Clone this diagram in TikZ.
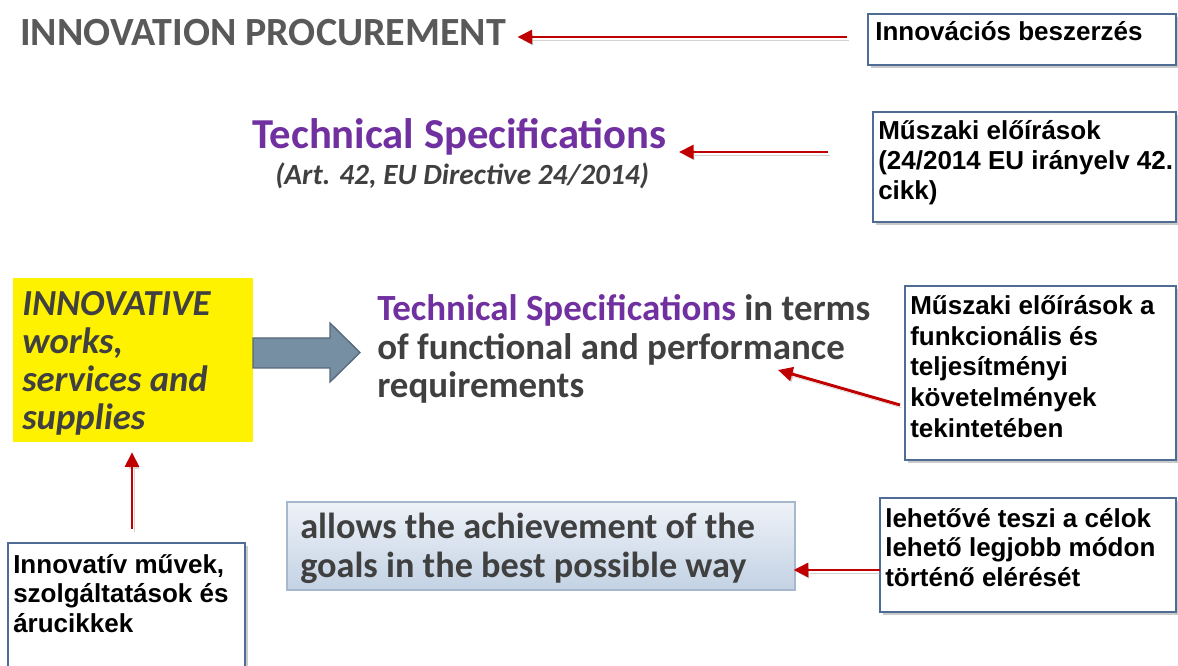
\documentclass[tikz,border=0pt]{standalone}
\usepackage{fontspec}
\setmainfont{Carlito}
\newfontfamily\huf{Liberation Sans}
\usetikzlibrary{arrows.meta,shadows}
\definecolor{redarr}{HTML}{C00000}
\definecolor{purp}{HTML}{7030A0}
\definecolor{darkt}{HTML}{404040}
\definecolor{titleg}{HTML}{595959}
\definecolor{boxb}{HTML}{4F6D94}
\definecolor{blkfill}{HTML}{778FA2}
\definecolor{blkdraw}{HTML}{56687A}
\definecolor{goaltop}{HTML}{EEF2F8}
\definecolor{goalbot}{HTML}{C3D2E4}
\definecolor{goalb}{HTML}{A8B8CC}
\begin{document}
\begin{tikzpicture}[x=0.75pt,y=-0.75pt,
  txt/.style={inner sep=0pt, anchor=base west, align=left},
  titletxt/.style={txt, font=\fontsize{30}{36}\selectfont\bfseries, text=titleg},
  specttl/.style={txt, font=\fontsize{32}{38}\selectfont\bfseries, text=purp},
  subttl/.style={txt, font=\fontsize{22}{26}\selectfont\bfseries\itshape, text=darkt},
  yeltxt/.style={txt, font=\fontsize{27.5}{28.5}\selectfont\bfseries\itshape, text=darkt},
  bodytxt/.style={txt, font=\fontsize{27.7}{28.9}\selectfont\bfseries, text=darkt},
  goaltxt/.style={txt, font=\fontsize{27.2}{29.2}\selectfont\bfseries, text=darkt},
  hutxt/.style={txt, font=\huf\fontsize{19.5}{22.1}\selectfont\bfseries, text=black},
  hubox/.style={draw=boxb, line width=0.9pt, fill=white, inner sep=0pt,
     drop shadow={shadow xshift=2.5pt, shadow yshift=-2.5pt, opacity=0.35, fill=black!60}},
  redarrow/.style={draw=redarr, line width=2.2pt, -{Triangle[length=11pt,width=10.5pt]},
     preaction={draw=black!35, opacity=0.5, transform canvas={shift={(2,3)}}}},
]
\path[use as bounding box, clip] (0,0) rectangle (1178,666);

% headings
\node[titletxt] (title) at (20,46) {INNOVATION PROCUREMENT};
\node[specttl] (ts) at (252,149) {Technical Specifications};
\node[subttl] (sub) at (275,185) {(Art. 42, EU Directive 24/2014)};

% yellow box
\path[fill=yellow] (13,278) rectangle (253,442);
\node[inner sep=0pt, minimum width=240*0.75pt, minimum height=164*0.75pt] (yel) at (133,360) {};
\node[yeltxt] (yeltext) at (22,429.5) {INNOVATIVE\\works,\\services and\\supplies};

% block arrow
\path[fill=blkfill, draw=blkdraw, line width=1pt]
  (253,338) -- (330,338) -- (330,323) -- (360,352.5) -- (330,382) -- (330,368) -- (253,368) -- cycle;

% spec text
\node[bodytxt] (spec) at (377,398) {\textcolor{purp}{Technical Specifications} in terms\\of functional and performance\\requirements};

% goals box
\node[draw=goalb, line width=0.9pt, top color=goaltop, bottom color=goalbot,
  minimum width=508*0.75pt, minimum height=88*0.75pt, inner sep=0pt] (goals) at (541,546) {};
\node[goaltxt] (goalstext) at (300,577) {allows the achievement of the\\goals in the best possible way};

% Hungarian boxes
\node[hubox, minimum width=308*0.75pt, minimum height=51*0.75pt] (hb1) at (1022,39.5) {};
\node[hutxt] (ht1) at (875,41) {Innovációs beszerzés};

\node[hubox, minimum width=303*0.75pt, minimum height=110*0.75pt] (hb2) at (1024.5,167) {};
\node[hutxt, font=\huf\fontsize{19.5}{22.5}\selectfont\bfseries] (ht2) at (878,200) {Műszaki előírások\\(24/2014 EU irányelv 42.\\cikk)};

\node[hubox, minimum width=271*0.75pt, minimum height=174*0.75pt] (hb3) at (1040.5,373) {};
\node[hutxt, font=\huf\fontsize{19.5}{22.9}\selectfont\bfseries] (ht3) at (910,437) {Műszaki előírások a\\funkcionális és\\teljesítményi\\követelmények\\tekintetében};

\node[hubox, minimum width=296*0.75pt, minimum height=114*0.75pt] (hb4) at (1028,555) {};
\node[hutxt] (ht4) at (885,586) {lehetővé teszi a célok\\lehető legjobb módon\\történő elérését};

\node[hubox, minimum width=237*0.75pt, minimum height=140*0.75pt] (hb5) at (126.5,613) {};
\node[hutxt] (ht5) at (13,632) {Innovatív művek,\\szolgáltatások és\\árucikkek};

% red arrows
\coordinate (a1) at (847,37);
\coordinate (a2) at (828,152);
\coordinate (a3) at (900,405);
\coordinate (p3) at (778,370);
\coordinate (a4) at (880,570);
\coordinate (a5) at (132,529);

\draw[redarrow, shorten >=8.5pt] (a1) -- (a1 -| title.east);
\draw[redarrow, shorten >=9pt] (a2) -- (a2 -| ts.east);
\draw[redarrow] (a3) -- (p3);
\draw[redarrow, shorten >=-1.5pt] (a4) -- (a4 -| goals.east);
\draw[redarrow, shorten >=7.5pt] (a5) -- (a5 |- yel.south);
\end{tikzpicture}
\end{document}
